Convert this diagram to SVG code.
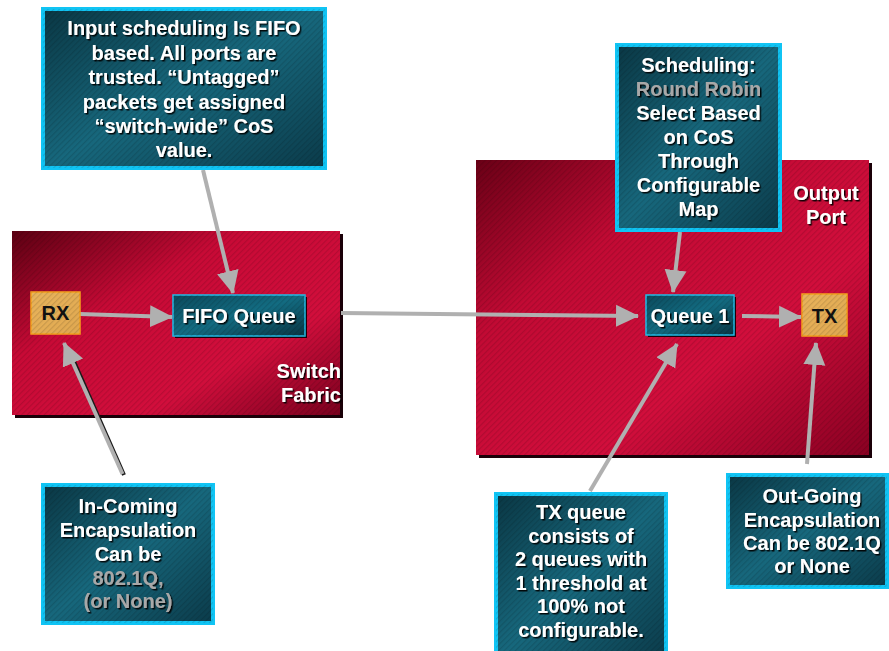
<svg xmlns="http://www.w3.org/2000/svg" width="889" height="651" viewBox="0 0 889 651">
<defs>
<style>
.t{font-family:"Liberation Sans",Arial,sans-serif;font-weight:bold;font-size:20px;fill:#ffffff;text-anchor:middle;filter:url(#sh)}
.g{fill:#a8a8a8}
.dk{font-family:"Liberation Sans",Arial,sans-serif;font-weight:bold;font-size:20px;fill:#111111;text-anchor:middle}
.callout{fill:url(#teal);stroke:#10c4f4;stroke-width:4}
.node{fill:url(#tealN);stroke:#22bde8;stroke-width:1.5}
.port{fill:url(#tan);stroke:#f5a21e;stroke-width:1.5}
.shadow{fill:#1a0008}
.stripe{fill:url(#stripes)}
.con{stroke:#b0b0b0;stroke-width:4;fill:none;marker-end:url(#ah)}
</style>
<filter id="sh" x="-10%" y="-30%" width="120%" height="160%">
<feDropShadow dx="1.5" dy="1.5" stdDeviation="0.4" flood-color="#000000" flood-opacity="0.9"/>
</filter>
<linearGradient id="teal" x1="0" y1="0" x2="1" y2="1">
<stop offset="0" stop-color="#0a3744"/>
<stop offset="0.5" stop-color="#17687d"/>
<stop offset="1" stop-color="#0b3b4a"/>
</linearGradient>
<linearGradient id="tealN" x1="0" y1="0" x2="1" y2="1">
<stop offset="0" stop-color="#0b4a5c"/>
<stop offset="0.5" stop-color="#136c82"/>
<stop offset="1" stop-color="#093644"/>
</linearGradient>
<linearGradient id="tan" x1="0" y1="0" x2="1" y2="1">
<stop offset="0" stop-color="#e9b45c"/>
<stop offset="1" stop-color="#e0a850"/>
</linearGradient>
<linearGradient id="redL" x1="0" y1="0" x2="1" y2="1">
<stop offset="0" stop-color="#5c0012"/>
<stop offset="0.35" stop-color="#c80a36"/>
<stop offset="0.7" stop-color="#d20e3c"/>
<stop offset="1" stop-color="#7a001e"/>
</linearGradient>
<linearGradient id="redR" x1="0" y1="0" x2="1" y2="1">
<stop offset="0" stop-color="#6a0016"/>
<stop offset="0.3" stop-color="#c20a34"/>
<stop offset="0.65" stop-color="#d20e3c"/>
<stop offset="1" stop-color="#8a0022"/>
</linearGradient>
<pattern id="stripes" patternUnits="userSpaceOnUse" width="4" height="4" patternTransform="rotate(45)">
<rect x="0" y="0" width="1.2" height="4" fill="#000000" fill-opacity="0.12"/>
</pattern>
<marker id="ah" markerUnits="userSpaceOnUse" markerWidth="24" markerHeight="24" refX="22" refY="12" orient="auto">
<path d="M0,1 L23,12 L0,23 z" fill="#b0b0b0"/>
</marker>
</defs>
<rect width="889" height="651" fill="#ffffff"/>

<g id="switch-fabric">
<rect class="shadow" x="15" y="234" width="328" height="184"/>
<rect x="12" y="231" width="328" height="184" fill="url(#redL)"/>
<rect class="stripe" x="12" y="231" width="328" height="184"/>
<text class="t" style="text-anchor:end" x="341" y="378">Switch</text>
<text class="t" style="text-anchor:end" x="341" y="402">Fabric</text>
</g>

<g id="output-port">
<rect class="shadow" x="479" y="163" width="393" height="295"/>
<rect x="476" y="160" width="393" height="295" fill="url(#redR)"/>
<rect class="stripe" x="476" y="160" width="393" height="295"/>
<text class="t" x="826" y="200">Output</text>
<text class="t" x="826" y="224">Port</text>
</g>

<g id="connectors">
<line class="con" x1="203" y1="170" x2="233" y2="293"/>
<line class="con" x1="80" y1="314" x2="172" y2="317"/>
<line class="con" x1="341" y1="313" x2="638" y2="316"/>
<line class="con" x1="680" y1="232" x2="673" y2="292"/>
<line class="con" x1="742" y1="316" x2="801" y2="317"/>
<line x1="124" y1="475" x2="72" y2="357" stroke="#1a1a1a" stroke-width="4"/>
<line class="con" x1="122.5" y1="474" x2="64" y2="343"/>
<line class="con" x1="590" y1="491" x2="677" y2="344"/>
<line class="con" x1="807" y1="464" x2="816" y2="343"/>
</g>

<g id="rx">
<rect class="port" x="31" y="292" width="49" height="42"/>
<rect class="stripe" x="31" y="292" width="49" height="42"/>
<text class="dk" x="55.5" y="320">RX</text>
</g>

<g id="fifo-queue">
<rect class="shadow" x="175" y="297" width="132" height="41"/>
<rect class="node" x="173" y="295" width="132" height="41"/>
<rect class="stripe" x="173" y="295" width="132" height="41"/>
<text class="t" x="239" y="323">FIFO Queue</text>
</g>

<g id="queue-1">
<rect class="shadow" x="648" y="297" width="88" height="40"/>
<rect class="node" x="646" y="295" width="88" height="40"/>
<rect class="stripe" x="646" y="295" width="88" height="40"/>
<text class="t" x="690" y="323">Queue 1</text>
</g>

<g id="tx">
<rect class="port" x="802" y="294" width="45" height="42"/>
<rect class="stripe" x="802" y="294" width="45" height="42"/>
<text class="dk" x="824.5" y="323">TX</text>
</g>

<g id="note-input-scheduling">
<rect class="callout" x="43" y="9" width="282" height="159"/>
<rect class="stripe" x="43" y="9" width="282" height="159"/>
<text class="t" x="184" y="35">Input scheduling Is FIFO</text>
<text class="t" x="184" y="59.5">based. All ports are</text>
<text class="t" x="184" y="84">trusted. “Untagged”</text>
<text class="t" x="184" y="108.5">packets get assigned</text>
<text class="t" x="184" y="133">“switch-wide” CoS</text>
<text class="t" x="184" y="157">value.</text>
</g>

<g id="note-scheduling">
<rect class="callout" x="617" y="45" width="163" height="185"/>
<rect class="stripe" x="617" y="45" width="163" height="185"/>
<text class="t" x="698.5" y="72">Scheduling:</text>
<text class="t g" x="698.5" y="96">Round Robin</text>
<text class="t" x="698.5" y="120">Select Based</text>
<text class="t" x="698.5" y="144">on CoS</text>
<text class="t" x="698.5" y="168">Through</text>
<text class="t" x="698.5" y="192">Configurable</text>
<text class="t" x="698.5" y="216">Map</text>
</g>

<g id="note-incoming">
<rect class="callout" x="43" y="485" width="170" height="138"/>
<rect class="stripe" x="43" y="485" width="170" height="138"/>
<text class="t" x="128" y="513">In-Coming</text>
<text class="t" x="128" y="537">Encapsulation</text>
<text class="t" x="128" y="561">Can be</text>
<text class="t g" x="128" y="585">802.1Q,</text>
<text class="t g" x="128" y="608">(or None)</text>
</g>

<g id="note-tx-queue">
<rect class="callout" x="496" y="494" width="170" height="165"/>
<rect class="stripe" x="496" y="494" width="170" height="165"/>
<text class="t" x="581" y="519">TX queue</text>
<text class="t" x="581" y="542.5">consists of</text>
<text class="t" x="581" y="566">2 queues with</text>
<text class="t" x="581" y="589.5">1 threshold at</text>
<text class="t" x="581" y="613">100% not</text>
<text class="t" x="581" y="636.5">configurable.</text>
</g>

<g id="note-outgoing">
<rect class="callout" x="728" y="475" width="159" height="112"/>
<rect class="stripe" x="728" y="475" width="159" height="112"/>
<text class="t" x="812" y="503">Out-Going</text>
<text class="t" x="812" y="527">Encapsulation</text>
<text class="t" x="812" y="550">Can be 802.1Q</text>
<text class="t" x="812" y="573">or None</text>
</g>
</svg>
